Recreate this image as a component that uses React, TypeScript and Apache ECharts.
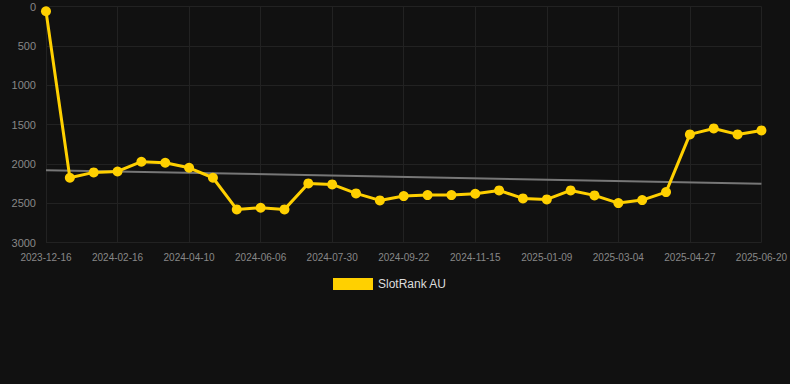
import React, { useEffect, useRef } from "react";
import * as echarts from "echarts";

const categories: string[] = [
  "2023-12-16", "2024-01-05", "2024-01-27", "2024-02-16", "2024-03-05", "2024-03-23",
  "2024-04-10", "2024-04-29", "2024-05-18", "2024-06-06", "2024-06-24", "2024-07-12",
  "2024-07-30", "2024-08-17", "2024-09-04", "2024-09-22", "2024-10-10", "2024-10-28",
  "2024-11-15", "2024-12-03", "2024-12-22", "2025-01-09", "2025-01-27", "2025-02-14",
  "2025-03-04", "2025-03-22", "2025-04-09", "2025-04-27", "2025-05-15", "2025-06-02",
  "2025-06-20",
];

const rankValues: number[] = [
  60, 2177, 2109, 2097, 1973, 1986, 2050, 2177, 2579, 2558, 2579, 2249, 2262, 2376,
  2465, 2410, 2397, 2397, 2380, 2338, 2440, 2452, 2338, 2401, 2499, 2461, 2359, 1626,
  1550, 1626, 1575,
];

const trendStart = 2080;
const trendEnd = 2253;

const yMin = 0;
const yMax = 3000;
const yInterval = 500;

const FONT = "'Liberation Sans', Arial, Helvetica, sans-serif";

export default function App() {
  const ref = useRef<HTMLDivElement>(null);

  useEffect(() => {
    if (!ref.current) return;
    const chart = echarts.init(ref.current, undefined, { renderer: "svg" });
    const last = categories.length - 1;
    chart.setOption({
      animation: false,
      backgroundColor: "#111111",
      textStyle: { fontFamily: FONT },
      grid: { left: 46, right: 28, top: 6.5, bottom: 141.5, containLabel: false },
      legend: {
        data: ["SlotRank AU"],
        left: 333,
        top: 278,
        padding: 0,
        icon: "rect",
        itemWidth: 40,
        itemHeight: 12,
        itemGap: 10,
        textStyle: { color: "#dddddd", fontSize: 12, fontFamily: FONT },
      },
      xAxis: {
        type: "category",
        data: categories,
        boundaryGap: false,
        axisLine: { show: false },
        axisTick: { show: false },
        axisLabel: {
          interval: 2,
          color: "#888888",
          fontSize: 10,
          margin: 10,
          fontFamily: FONT,
        },
        splitLine: {
          show: true,
          interval: 2,
          lineStyle: { color: "#222222", width: 1 },
        },
      },
      yAxis: {
        type: "value",
        inverse: true,
        min: yMin,
        max: yMax,
        interval: yInterval,
        axisLine: { show: false },
        axisTick: { show: false },
        axisLabel: {
          color: "#888888",
          fontSize: 11,
          margin: 10,
          fontFamily: FONT,
          formatter: (v: number) => String(v),
        },
        splitLine: { show: true, lineStyle: { color: "#222222", width: 1 } },
      },
      series: [
        {
          name: "Trend",
          type: "line",
          data: [
            [0, trendStart],
            [last, trendEnd],
          ],
          symbol: "none",
          lineStyle: { color: "#777777", width: 2 },
          itemStyle: { color: "#777777" },
          z: 1,
          silent: true,
        },
        {
          name: "SlotRank AU",
          type: "line",
          data: rankValues,
          symbol: "circle",
          symbolSize: 10,
          lineStyle: { color: "#FFD000", width: 3 },
          itemStyle: { color: "#FFD000" },
          z: 3,
        },
      ],
    });
    return () => chart.dispose();
  }, []);

  return (
    <div
      ref={ref}
      style={{ position: "fixed", left: 0, top: 0, width: 790, height: 384, background: "#111111" }}
    />
  );
}
